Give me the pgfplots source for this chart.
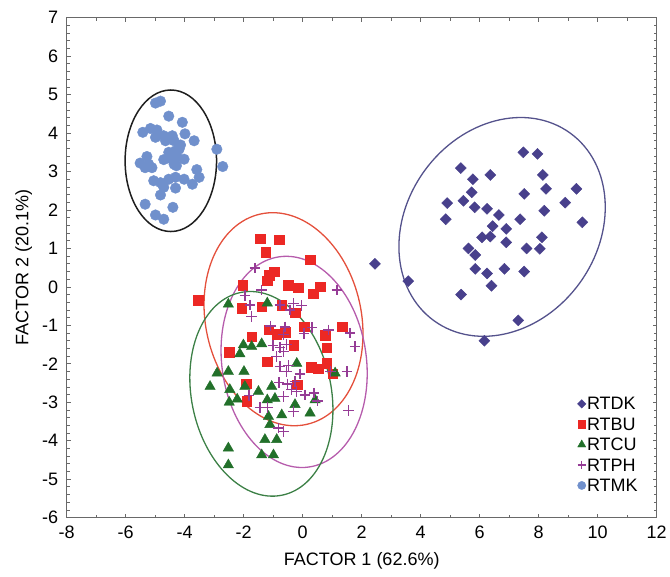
\documentclass[border=0pt]{standalone}
\usepackage{pgfplots}
\pgfplotsset{compat=1.18}
\usepackage{fontspec}
\setmainfont{Liberation Sans}
\definecolor{cDK}{RGB}{72,64,140}
\definecolor{cBU}{RGB}{236,40,36}
\definecolor{cCU}{RGB}{34,112,42}
\definecolor{cPH}{RGB}{150,60,150}
\definecolor{cMK}{RGB}{112,144,204}
\definecolor{eDK}{RGB}{84,82,140}
\definecolor{eBU}{RGB}{228,80,60}
\definecolor{eCU}{RGB}{60,128,70}
\definecolor{ePH}{RGB}{182,92,172}
\definecolor{eMK}{RGB}{30,30,30}
\definecolor{frame}{RGB}{105,105,105}
\begin{document}
\begin{tikzpicture}
\begin{axis}[
  name=ax,
  scale only axis, width=590pt, height=500pt,
  xmin=-8, xmax=12, ymin=-6, ymax=7,
  xtick={-8,-6,...,12}, ytick={-6,-5,...,7},
  minor x tick num=1, minor y tick num=4,
  tick align=inside,
  major tick length=4pt, minor tick length=3pt,
  every tick/.style={frame, line width=0.8pt},
  axis line style={frame, line width=1.3pt},
  /pgf/number format/assume math mode=true,
  ticklabel style={font=\fontsize{18}{20}\selectfont},
  yticklabel style={xshift=-5pt},
  xticklabel style={yshift=-5pt},
  every axis x label/.style={at={(axis description cs:0.5,0)}, anchor=center, yshift=-43pt, font=\fontsize{18}{20}\selectfont},
  every axis y label/.style={at={(axis description cs:-0.0729,0.5)}, rotate=90, anchor=center, font=\fontsize{18}{20}\selectfont},
  xlabel={FACTOR 1 (62.6\%)}, ylabel={FACTOR 2 (20.1\%)},
  legend cell align=left,
  legend style={draw=none, fill=none, at={(0.975,0.046)}, anchor=south east,
    font=\fontsize{18}{20}\selectfont,
    nodes={inner sep=1pt, text height=12pt, text depth=0pt},
    row sep=6.4pt},
  legend image code/.code={\draw[#1, /tikz/every mark/.append style={scale=0.78}] plot coordinates {(0.15cm,0cm)};},
]
% confidence ellipses
\draw[eMK, line width=1.5pt] (axis cs:-4.47,3.28) ellipse [x radius=1.55, y radius=1.84];
\draw[eDK, line width=1.3pt, rotate around={54:(axis cs:6.76,1.56)}] (axis cs:6.76,1.56) ellipse [x radius=3.93, y radius=2.49];
\draw[eBU, line width=1.3pt, rotate around={12.3:(axis cs:-0.65,-0.84)}] (axis cs:-0.65,-0.84) ellipse [x radius=2.64, y radius=2.80];
\draw[ePH, line width=1.3pt, rotate around={8:(axis cs:-0.29,-1.95)}] (axis cs:-0.29,-1.95) ellipse [x radius=2.45, y radius=2.76];
\draw[eCU, line width=1.3pt, rotate around={11.5:(axis cs:-1.40,-2.78)}] (axis cs:-1.40,-2.78) ellipse [x radius=2.37, y radius=2.69];

\addplot[only marks, mark=square*, mark size=3.9pt, mark options={rotate=45, fill=cDK, draw=cDK}] coordinates {
(7.48,3.50) (7.96,3.46) (5.36,3.09) (5.77,2.80) (6.36,2.91) (8.14,2.91) (8.25,2.55) (9.28,2.55)
(5.73,2.46) (5.45,2.24) (4.90,2.18) (5.83,2.07) (6.25,2.03) (6.65,1.87) (7.51,2.42) (8.90,2.19)
(8.19,1.98) (7.37,1.76) (4.85,1.76) (6.44,1.58) (6.90,1.51) (6.08,1.29) (6.36,1.31) (8.11,1.29)
(6.90,1.16) (5.62,1.00) (5.85,0.83) (7.59,1.00) (8.04,0.99) (5.85,0.47) (6.25,0.35) (6.84,0.47)
(7.51,0.40) (6.40,0.03) (5.37,-0.20) (7.31,-0.87) (6.16,-1.40) (3.58,0.15) (2.45,0.60) (9.48,1.68)
};
\addlegendentry{RTDK}
\addplot[only marks, mark=square*, mark size=4.8pt, mark options={fill=cBU, draw=cBU}] coordinates {
(-1.45,1.25) (-0.80,1.23) (-1.26,0.91) (0.25,0.71) (-0.97,0.40) (-1.13,0.31) (-1.20,0.16)
(-2.03,0.05) (-0.50,0.05) (-0.15,-0.02) (0.59,0.01) (0.35,-0.18) (-3.54,-0.35) (-2.07,-0.55)
(-1.39,-0.51) (-0.71,-0.47) (-0.26,-0.67) (-1.73,-1.29) (-1.15,-1.11) (-0.88,-1.23) (-0.60,-1.18)
(0.05,-1.03) (0.76,-1.26) (1.33,-1.03) (-0.31,-1.51) (0.82,-1.58) (-2.49,-1.69) (-1.20,-1.94)
(0.28,-2.09) (0.53,-2.13) (0.82,-1.99) (1.02,-2.26) (-0.18,-2.54) (-1.92,-2.52) (-1.90,-2.97)
};
\addlegendentry{RTBU}
\addplot[only marks, mark=triangle*, mark size=6pt, mark options={fill=cCU, draw=cCU}] coordinates {
(-2.52,-0.45) (-1.20,-0.42) (-2.01,-1.51) (-1.73,-1.55) (-1.39,-1.48) (-2.13,-1.74) (-2.90,-2.24)
(-2.52,-2.20) (-1.99,-2.20) (-3.14,-2.59) (-2.47,-2.67) (-1.96,-2.59) (-1.50,-2.72) (-1.05,-2.59)
(-2.49,-3.00) (-2.22,-2.92) (-1.20,-2.94) (-1.16,-3.37) (-1.11,-3.58) (-1.28,-3.97) (-0.88,-3.97)
(-1.39,-4.37) (-0.99,-4.37) (-2.52,-4.19) (-2.52,-4.63) (-0.20,-1.99) (-0.94,-2.90) (-0.26,-3.06)
(0.42,-2.94) (0.25,-3.28) (-0.71,-3.33) (1.10,-2.24)
};
\addlegendentry{RTCU}
\addplot[only marks, mark=+, mark size=5.3pt, mark options={draw=cPH, line width=1.4pt}] coordinates {
(-1.62,0.49) (-1.39,-0.08) (-1.96,-0.22) (-1.79,-0.47) (-1.73,-0.77) (-0.77,-0.47) (-0.31,-0.43)
(-0.05,-0.49) (-0.43,-0.60) (1.16,-0.08) (-1.10,-1.02) (-0.60,-1.04) (-0.65,-1.24) (0.05,-1.21)
(0.31,-1.06) (0.87,-1.12) (1.61,-1.20) (1.78,-1.55) (-1.00,-1.53) (-0.77,-1.58) (-0.54,-1.49)
(-0.88,-1.81) (-0.65,-1.68) (-0.48,-2.05) (-0.77,-2.07) (-0.54,-2.20) (-0.09,-2.26) (-0.26,-2.46)
(-0.80,-2.49) (-0.52,-2.52) (-0.37,-2.67) (-0.20,-2.72) (0.08,-2.81) (0.38,-2.76) (-0.65,-2.85)
(-1.82,-2.83) (-1.45,-3.13) (-1.20,-3.13) (-0.31,-3.24) (0.50,-2.97) (0.95,-2.20) (1.50,-2.20)
(1.56,-3.22) (-0.82,-3.67) (-0.65,-3.76)
};
\addlegendentry{RTPH}
\addplot[only marks, mark=*, mark size=5.3pt, mark options={fill=cMK, draw=cMK}] coordinates {
(-4.99,4.78) (-4.82,4.83) (-4.54,4.44) (-4.08,4.28) (-5.42,4.02) (-5.16,4.12) (-4.94,4.08)
(-4.99,3.89) (-4.71,3.93) (-4.65,3.80) (-4.42,3.93) (-4.36,3.80) (-3.99,3.98) (-3.68,3.80)
(-4.14,3.69) (-4.31,3.54) (-4.19,3.58) (-4.71,3.31) (-4.48,3.34) (-4.25,3.37) (-4.02,3.32)
(-4.36,3.19) (-5.28,3.39) (-5.51,3.22) (-5.34,3.10) (-5.11,3.10) (-5.05,2.76) (-4.82,2.71)
(-4.71,2.59) (-4.54,2.80) (-4.31,2.85) (-4.02,2.80) (-3.74,2.67) (-3.59,3.05) (-3.51,2.85)
(-4.31,2.57) (-4.82,2.39) (-5.34,2.15) (-4.40,2.07) (-4.99,1.87) (-4.71,1.76) (-2.91,3.58)
(-2.71,3.13) (-5.22,3.19) (-4.54,3.50) (-4.28,3.15)
};
\addlegendentry{RTMK}
\end{axis}
\path ([shift={(-66.7pt,-59pt)}]ax.south west);
\path ([shift={(13.3pt,17.7pt)}]ax.north east);
\end{tikzpicture}
\end{document}
